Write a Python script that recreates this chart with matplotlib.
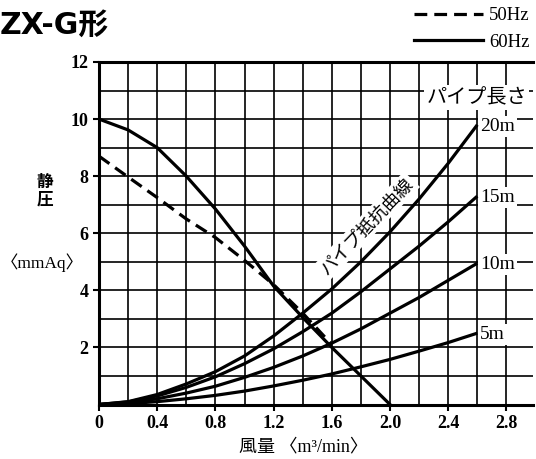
import numpy as np
import matplotlib.pyplot as plt
from matplotlib.ticker import MultipleLocator

# fan curves (static pressure mmAq vs air flow m3/min)
fan60_q = [0, 0.2, 0.4, 0.6, 0.8, 1.0, 1.2, 1.4, 1.6, 1.8, 2.0]
fan60_p = [10.0, 9.62, 9.0, 8.0, 6.85, 5.55, 4.15, 3.05, 2.0, 1.0, 0.0]
fan50_q = [0, 0.2, 0.4, 0.6, 0.8, 1.0, 1.2, 1.4, 1.6]
fan50_p = [8.7, 7.97, 7.25, 6.5, 5.85, 5.05, 4.2, 3.2, 2.1]

# pipe resistance curves
pipe_q = [0, 0.2, 0.4, 0.6, 0.8, 1.0, 1.2, 1.4, 1.6, 1.8, 2.0, 2.2, 2.4, 2.6]
pipe_20 = [0, 0.1, 0.35, 0.72, 1.15, 1.7, 2.4, 3.2, 4.05, 5.0, 6.05, 7.2, 8.45, 9.8]
pipe_15 = [0, 0.09, 0.3, 0.6, 0.97, 1.43, 1.95, 2.55, 3.2, 3.95, 4.75, 5.55, 6.4, 7.3]
pipe_10 = [0, 0.06, 0.2, 0.4, 0.64, 0.95, 1.3, 1.7, 2.15, 2.65, 3.2, 3.75, 4.35, 4.95]
pipe_5 = [0, 0.03, 0.1, 0.2, 0.32, 0.47, 0.65, 0.85, 1.07, 1.32, 1.58, 1.87, 2.17, 2.5]
pipe_labels = ['20m', '15m', '10m', '5m']

serif = ['Liberation Serif', 'Noto Sans CJK JP']
cjk = ['Noto Sans CJK JP', 'DejaVu Sans']

fig = plt.figure(figsize=(5.36, 4.59), dpi=100)
ax = fig.add_axes([99 / 536, 54.5 / 459, 433.6 / 536, 342.5 / 459])

ax.set_xlim(0, 2.98)
ax.set_ylim(0, 12)
ax.xaxis.set_major_locator(MultipleLocator(0.4))
ax.xaxis.set_minor_locator(MultipleLocator(0.2))
ax.set_yticks([2, 4, 6, 8, 10, 12])
ax.yaxis.set_minor_locator(MultipleLocator(1))
ax.set_axisbelow(True)
ax.grid(which='both', color='black', lw=1.2)
ax.tick_params(which='major', direction='out', length=4, width=1.5, colors='black')
ax.tick_params(which='minor', length=0)
ax.set_xticklabels([f'{v:.1f}' if v > 0 else '0' for v in ax.get_xticks()])
for lab in ax.get_xticklabels() + ax.get_yticklabels():
    lab.set_fontfamily(serif)
    lab.set_fontsize(13)
    lab.set_fontweight('bold')
for s in ['left', 'bottom', 'top']:
    ax.spines[s].set_linewidth(2.2)
ax.spines['right'].set_visible(False)

lw = 2.3
l50, = ax.plot(fan50_q, fan50_p, color='black', lw=lw, ls=(0, (4, 2.2)), zorder=4, label='50Hz')
l60, = ax.plot(fan60_q, fan60_p, color='black', lw=lw, zorder=4, label='60Hz')
for ys in [pipe_20, pipe_15, pipe_10, pipe_5]:
    ax.plot(pipe_q, ys, color='black', lw=lw, zorder=4, solid_capstyle='butt')

box = dict(facecolor='white', edgecolor='none', pad=1.5)
for ys, lab in zip([pipe_20, pipe_15, pipe_10, pipe_5], pipe_labels):
    ax.text(pipe_q[-1] + 0.02, ys[-1] - 0.05, lab, family=serif, fontsize=14,
            ha='left', va='center', bbox=box, zorder=3)
ax.text(2.25, 10.75, 'パイプ長さ', family=cjk, fontsize=14.5, ha='left', va='center',
        bbox=box, zorder=3)
ax.text(1.84, 6.25, 'パイプ抵抗曲線', family=cjk, fontsize=13, rotation=46,
        ha='center', va='center', rotation_mode='anchor', bbox=box, zorder=3)

fig.text(0.0, 0.945, 'ZX-G形', family=['DejaVu Sans', 'Noto Sans CJK JP'],
         fontsize=21.5, fontweight='bold', ha='left', va='center')
fig.text(45 / 536, 1 - 191 / 459, '静\n圧', family=cjk, fontsize=12,
         ha='center', va='center', linespacing=1.0, fontweight='bold')
fig.text(42 / 536, 1 - 263 / 459, '〈mmAq〉', family=serif, fontsize=12.5,
         ha='center', va='center')
fig.text(303 / 536, 1 - 447 / 459, '風量 〈m³/min〉', family=serif, fontsize=13,
         ha='center', va='center')

fig.legend([l50, l60], ['50Hz', '60Hz'], loc='upper left',
           bbox_to_anchor=(414 / 536, 1 - 7 / 459), frameon=False,
           prop={'family': serif, 'size': 13.5}, handlelength=3.7,
           handletextpad=0.3, labelspacing=0.5, borderpad=0, borderaxespad=0)

fig.savefig('out.png', dpi=100)
